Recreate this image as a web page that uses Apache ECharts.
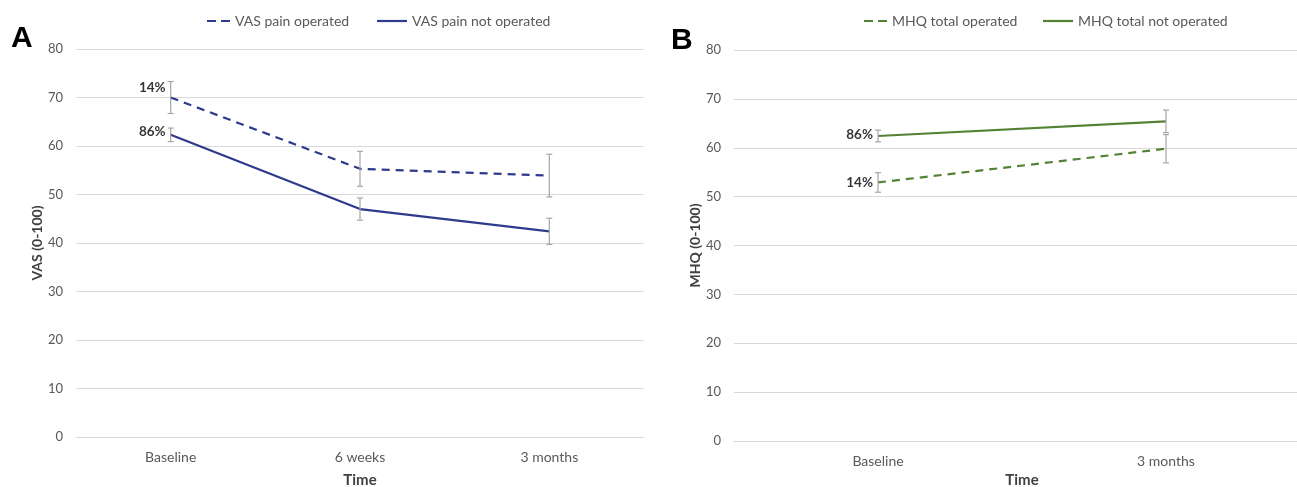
<!DOCTYPE html>
<html>
<head>
<meta charset="utf-8">
<script src="https://cdn.jsdelivr.net/npm/echarts@6/dist/echarts.min.js"></script>
<style>
html,body{margin:0;padding:0;background:#fff;}
#c{width:1297px;height:487px;}
</style>
</head>
<body>
<div id="c"></div>
<script>
// ---- Data ----
const catsA = ['Baseline', '6 weeks', '3 months'];
const vasOperated = [70.0, 55.3, 53.9];
const vasOperatedErr = [3.3, 3.6, 4.4];
const vasNotOperated = [62.3, 47.0, 42.4];
const vasNotOperatedErr = [1.4, 2.3, 2.7];

const catsB = ['Baseline', '3 months'];
const mhqOperated = [52.9, 59.8];
const mhqOperatedErr = [2.0, 2.9];
const mhqNotOperated = [62.4, 65.4];
const mhqNotOperatedErr = [1.2, 2.3];

const pctOperated = '14%';
const pctNotOperated = '86%';

const yTicks = { min: 0, max: 80, interval: 10 };

// ---- Styles ----
const FONT = 'Lato';
const BLUE = '#2E3A8C';
const GREEN = '#548235';
const ERR = '#A6A6A6';
const GRIDC = '#D9D9D9';
const TICKC = '#595959';
const DASH_ICON = 'path://M0,0H9V2H0Z M14,0H23V2H14Z';

function errData(vals, errs) {
  return vals.map((v, i) => [i, v - errs[i], v + errs[i]]);
}
function errSeries(name, xi, vals, errs) {
  return {
    type: 'custom', name: name, xAxisIndex: xi, yAxisIndex: xi, z: 5,
    silent: true,
    data: errData(vals, errs),
    renderItem: function (params, api) {
      const lo = api.coord([api.value(0), api.value(1)]);
      const hi = api.coord([api.value(0), api.value(2)]);
      const w = 3;
      const st = { stroke: ERR, lineWidth: 1.2 };
      return {
        type: 'group',
        children: [
          { type: 'line', shape: { x1: lo[0], y1: lo[1], x2: hi[0], y2: hi[1] }, style: st },
          { type: 'line', shape: { x1: lo[0] - w, y1: lo[1], x2: lo[0] + w, y2: lo[1] }, style: st },
          { type: 'line', shape: { x1: hi[0] - w, y1: hi[1], x2: hi[0] + w, y2: hi[1] }, style: st }
        ]
      };
    }
  };
}
function lineSeries(name, xi, vals, color, dashed) {
  return {
    type: 'line', name: name, xAxisIndex: xi, yAxisIndex: xi, z: 3,
    data: vals, symbol: 'none', showSymbol: false, smooth: false,
    lineStyle: { color: color, width: 2.2, type: dashed ? [8, 6] : 'solid' },
    itemStyle: { color: color }
  };
}
function pctSeries(xi, items) {
  return {
    type: 'scatter', xAxisIndex: xi, yAxisIndex: xi, symbolSize: 0, z: 6, silent: true,
    data: items.map(it => ({
      value: [0, it.v],
      label: { show: true, position: 'left', distance: 5, formatter: it.t, offset: it.off,
        color: '#000', fontWeight: 'bold', fontSize: 13.5, fontFamily: FONT }
    }))
  };
}
function xAxisCfg(gi, cats, gap) {
  return {
    type: 'category', gridIndex: gi, data: cats, boundaryGap: true,
    axisLine: { show: true, lineStyle: { color: GRIDC, width: 1 } },
    axisTick: { show: false },
    axisLabel: { color: TICKC, fontSize: 14, fontFamily: FONT, margin: 13 },
    name: 'Time', nameLocation: 'middle', nameGap: gap,
    nameTextStyle: { color: '#404040', fontSize: 15, fontWeight: 'bold', fontFamily: FONT }
  };
}
function yAxisCfg(gi, name) {
  return {
    type: 'value', gridIndex: gi, min: yTicks.min, max: yTicks.max, interval: yTicks.interval,
    axisLine: { show: false }, axisTick: { show: false },
    splitLine: { lineStyle: { color: GRIDC, width: 1 } },
    axisLabel: { color: TICKC, fontSize: 13, fontFamily: FONT, margin: 13 },
    name: name, nameLocation: 'middle', nameGap: 29, nameRotate: 90,
    nameTextStyle: { color: '#404040', fontSize: 14, fontWeight: 'bold', fontFamily: FONT }
  };
}
function legendCfg(name, left, iw, dashed, color) {
  return {
    data: [{ name: name, icon: dashed ? DASH_ICON : 'rect', itemStyle: { color: color } }],
    left: left, top: 13, itemWidth: iw, itemHeight: 2.2, padding: 0,
    textStyle: { color: TICKC, fontSize: 14, fontFamily: FONT, lineHeight: 16 },
    selectedMode: false
  };
}

const chart = echarts.init(document.getElementById('c'), null, { renderer: 'canvas' });
chart.setOption({
  animation: false,
  backgroundColor: '#fff',
  grid: [
    { left: 76, right: 653, top: 49, bottom: 50, outerBoundsMode: 'none', containLabel: false },
    { left: 734, right: -13, top: 50, bottom: 46, outerBoundsMode: 'none', containLabel: false }
  ],
  xAxis: [xAxisCfg(0, catsA, 36), xAxisCfg(1, catsB, 32)],
  yAxis: [yAxisCfg(0, 'VAS (0-100)'), yAxisCfg(1, 'MHQ (0-100)')],
  legend: [
    legendCfg('VAS pain operated', 207, 23, true, BLUE),
    legendCfg('VAS pain not operated', 377, 30, false, BLUE),
    legendCfg('MHQ total operated', 864, 23, true, GREEN),
    legendCfg('MHQ total not operated', 1043, 30, false, GREEN)
  ],
  graphic: [
    { type: 'text', left: 11, top: 24, style: { text: 'A', fontSize: 30, fontWeight: 'bold', fontFamily: 'Liberation Sans', fill: '#000' } },
    { type: 'text', left: 671, top: 26, style: { text: 'B', fontSize: 30, fontWeight: 'bold', fontFamily: 'Liberation Sans', fill: '#000' } }
  ],
  series: [
    lineSeries('VAS pain operated', 0, vasOperated, BLUE, true),
    lineSeries('VAS pain not operated', 0, vasNotOperated, BLUE, false),
    errSeries('errA1', 0, vasOperated, vasOperatedErr),
    errSeries('errA2', 0, vasNotOperated, vasNotOperatedErr),
    pctSeries(0, [
      { v: vasOperated[0], t: pctOperated, off: [0, -10] },
      { v: vasNotOperated[0], t: pctNotOperated, off: [0, -3] }
    ]),
    lineSeries('MHQ total operated', 1, mhqOperated, GREEN, true),
    lineSeries('MHQ total not operated', 1, mhqNotOperated, GREEN, false),
    errSeries('errB1', 1, mhqOperated, mhqOperatedErr),
    errSeries('errB2', 1, mhqNotOperated, mhqNotOperatedErr),
    pctSeries(1, [
      { v: mhqOperated[0], t: pctOperated, off: [0, 0] },
      { v: mhqNotOperated[0], t: pctNotOperated, off: [0, -1] }
    ])
  ]
});
</script>
</body>
</html>
